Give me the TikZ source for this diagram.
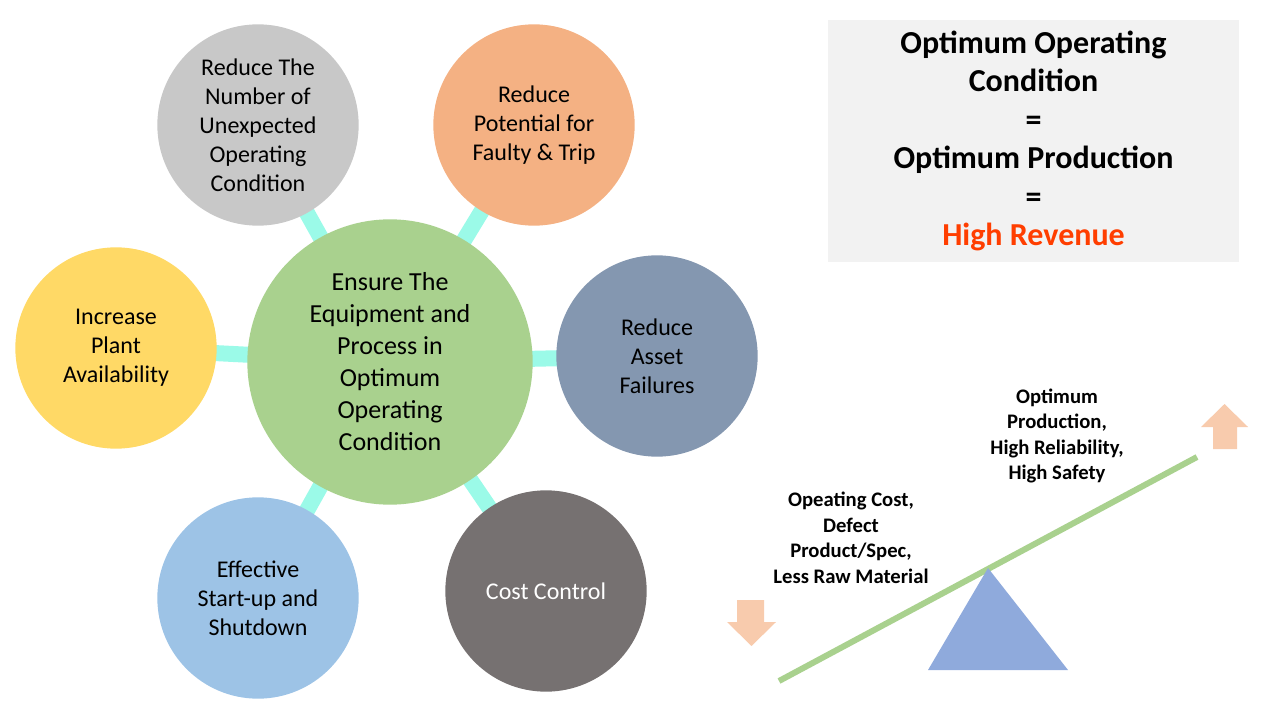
\documentclass[tikz,border=0pt]{standalone}
\usepackage{fontspec}
\setmainfont{Carlito}
\usetikzlibrary{backgrounds}
\definecolor{hubgreen}{RGB}{169,209,142}
\definecolor{linkcyan}{RGB}{155,250,232}
\definecolor{greyc}{RGB}{200,200,200}
\definecolor{orangec}{RGB}{244,177,131}
\definecolor{yellowc}{RGB}{255,217,102}
\definecolor{slatec}{RGB}{132,151,176}
\definecolor{bluec}{RGB}{157,195,230}
\definecolor{darkc}{RGB}{118,113,113}
\definecolor{boxgrey}{RGB}{242,242,242}
\definecolor{revred}{RGB}{255,62,0}
\definecolor{wedge}{RGB}{143,170,220}
\definecolor{peach}{RGB}{248,203,173}
\begin{document}
\begin{tikzpicture}[x=0.75pt,y=-0.75pt]
      % Define styles for nodes
      \tikzstyle{hub} = [circle, fill=hubgreen, inner sep=0pt,
      minimum size=214pt, align=center,
      font=\fontsize{19.5}{24}\selectfont]
      \tikzstyle{goal} = [circle, inner sep=0pt, minimum size=151pt,
      align=center, font=\fontsize{18}{21.75}\selectfont]
      \tikzstyle{link} = [linkcyan, line width=12pt]
      \tikzstyle{note} = [align=center, font=\bfseries\fontsize{15.5}{19.1}\selectfont]

      \useasboundingbox (0,0) rectangle (1280,720);

      % Central circle and the goals round it
      \node[hub] (ensure) at (390,362) {Ensure The\\Equipment and\\Process in\\Optimum\\Operating\\Condition};
      \node[goal, fill=greyc] (unexpected) at (258,125) {Reduce The\\Number of\\Unexpected\\Operating\\Condition};
      \node[goal, fill=orangec] (faulty) at (534,125) {Reduce\\Potential for\\Faulty \& Trip};
      \node[goal, fill=yellowc] (availability) at (116,348) {Increase\\Plant\\Availability};
      \node[goal, fill=slatec] (failures) at (657,356) {Reduce\\Asset\\Failures};
      \node[goal, fill=bluec] (startup) at (258,598) {Effective\\Start-up and\\Shutdown};
      \node[goal, fill=darkc, text=white] (cost) at (546,591) {Cost Control};

      % Connections
      \begin{scope}[on background layer]
        \foreach \g in {unexpected,faulty,availability,failures,startup,cost}
          \draw[link] (ensure.center) -- (\g.center);
      \end{scope}

      % Box at top right
      \node[fill=boxgrey, minimum width=308pt, minimum height=181.5pt,
      align=center, font=\bfseries\fontsize{24}{28.9}\selectfont] (result) at (1033.5,141)
      {Optimum Operating\\Condition\\=\\Optimum Production\\=\\\textcolor{revred}{High Revenue}};

      % Seesaw
      \coordinate (low) at (779,681);
      \coordinate (high) at (1197,457);
      \draw[hubgreen, line width=4.5pt] (low) -- (high);
      \fill[wedge] (988,568) -- (1068,670) -- (928,670) -- cycle;

      % Arrows at both ends
      \fill[peach] (1213,449) -- (1213,427) -- (1201,427) -- (1224.5,404)
      -- (1248,427) -- (1237,427) -- (1237,449) -- cycle;
      \fill[peach] (737,600) -- (764,600) -- (764,622) -- (776,622)
      -- (751.5,646) -- (727,622) -- (737,622) -- cycle;

      % Texts at the seesaw
      \node[note] (upside) at (1057,436) {Optimum\\Production,\\High Reliability,\\High Safety};
      \node[note] (downside) at (851,538) {Opeating Cost,\\Defect\\Product/Spec,\\Less Raw Material};

    \end{tikzpicture}
\end{document}
